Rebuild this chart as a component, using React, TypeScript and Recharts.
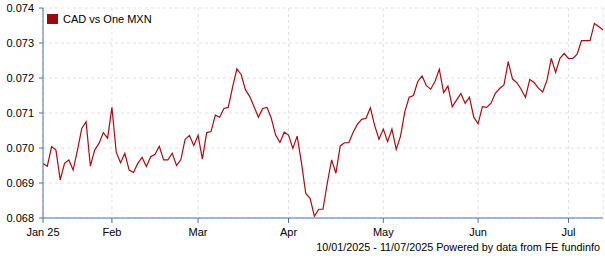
import React from 'react';
import { LineChart, Line, XAxis, YAxis, CartesianGrid } from 'recharts';

// CAD per one MXN, one value per business day, by month
const jan = [
  0.06956, 0.06948, 0.07004, 0.06994, 0.06909, 0.06956, 0.06966, 0.06937,
  0.06994, 0.07056, 0.07075, 0.06948, 0.06994, 0.07013, 0.07044, 0.07028,
];
const feb = [
  0.07116, 0.06988, 0.06958, 0.06985, 0.06937, 0.0693, 0.06956, 0.06973,
  0.06947, 0.06975, 0.06982, 0.07005, 0.06966, 0.06966, 0.06985, 0.0695,
  0.06967, 0.07025, 0.07036, 0.07007,
];
const mar = [
  0.07036, 0.06968, 0.07044, 0.07047, 0.07094, 0.07088, 0.07113, 0.07116,
  0.07173, 0.07226, 0.0721, 0.07166, 0.07147, 0.07118, 0.07088, 0.07113,
  0.07116, 0.07085, 0.07037, 0.07016, 0.07045,
];
const apr = [
  0.07037, 0.06999, 0.07034, 0.06958, 0.0687, 0.06856, 0.06805, 0.06825,
  0.06825, 0.069, 0.06966, 0.06928, 0.07006, 0.07015, 0.07015, 0.07045,
  0.07068, 0.07082, 0.07085, 0.07115, 0.07064, 0.07025,
];
const may = [
  0.07054, 0.07018, 0.07054, 0.06996, 0.07034, 0.07104, 0.07145, 0.0715,
  0.0719, 0.07206, 0.07178, 0.07168, 0.0719, 0.07225, 0.07158, 0.07177,
  0.07118, 0.07137, 0.07156, 0.07128, 0.07145, 0.07088,
];
const jun = [
  0.07069, 0.07118, 0.07116, 0.07128, 0.07156, 0.0717, 0.0718, 0.07247,
  0.07197, 0.07187, 0.07168, 0.07145, 0.07196, 0.07187, 0.07171, 0.0716,
  0.07194, 0.07256, 0.07216, 0.07256, 0.0727,
];
const jul = [
  0.07255, 0.07256, 0.07268, 0.07307, 0.07307, 0.07307, 0.07356, 0.07347,
  0.07337,
];

// [month index, first day, last day] for each block above
const months: [number, number, number, number[]][] = [
  [0, 10, 31, jan],
  [1, 1, 28, feb],
  [2, 1, 31, mar],
  [3, 1, 30, apr],
  [4, 1, 31, may],
  [5, 1, 30, jun],
  [6, 1, 11, jul],
];

const tickDates = [
  '2025-01-10',
  '2025-02-03',
  '2025-03-03',
  '2025-04-01',
  '2025-05-01',
  '2025-06-02',
  '2025-07-01',
];
const tickLabels = ['Jan 25', 'Feb', 'Mar', 'Apr', 'May', 'Jun', 'Jul'];
const yTicks = [0.068, 0.069, 0.07, 0.071, 0.072, 0.073, 0.074];

const seriesName = 'CAD vs One MXN';
const caption = '10/01/2025 - 11/07/2025 Powered by data from FE fundinfo';

function buildData() {
  const rows: { date: string; value: number }[] = [];
  months.forEach(([m, from, to, values]) => {
    let k = 0;
    for (let d = from; d <= to; d++) {
      const dt = new Date(Date.UTC(2025, m, d));
      const wd = dt.getUTCDay();
      if (wd === 0 || wd === 6) continue;
      if (k < values.length) {
        rows.push({ date: dt.toISOString().slice(0, 10), value: values[k] });
      }
      k++;
    }
  });
  return rows;
}

const data = buildData();

const font = '"Liberation Sans", Arial, sans-serif';
const axisColor = '#4a72a6';
const lineColor = '#a80d12';

export default function App() {
  return (
    <div
      style={{
        position: 'absolute',
        left: 0,
        top: 0,
        width: 605,
        height: 260,
        background: '#fff',
        fontFamily: font,
      }}
    >
      <LineChart
        width={605}
        height={260}
        data={data}
        margin={{ top: 8, right: 2, bottom: 22, left: 0 }}
      >
        <CartesianGrid stroke="#e2e2e2" strokeDasharray="3 3" />
        <XAxis
          dataKey="date"
          ticks={tickDates}
          interval={0}
          tickFormatter={(d) => tickLabels[tickDates.indexOf(d)]}
          height={20}
          tickSize={5}
          tickMargin={5}
          stroke={axisColor}
          tick={{ fill: '#000', fontSize: 11, fontFamily: font }}
        />
        <YAxis
          domain={[0.068, 0.074]}
          ticks={yTicks}
          tickFormatter={(v) => v.toFixed(3)}
          width={43}
          tickSize={4}
          tickMargin={5}
          stroke={axisColor}
          tick={{ fill: '#000', fontSize: 11, fontFamily: font }}
        />
        <Line
          type="linear"
          dataKey="value"
          stroke={lineColor}
          strokeWidth={1.2}
          dot={false}
          isAnimationActive={false}
        />
      </LineChart>
      <div
        style={{
          position: 'absolute',
          left: 47,
          top: 13,
          display: 'flex',
          alignItems: 'center',
          fontSize: 11,
          color: '#000',
        }}
      >
        <span
          style={{
            display: 'inline-block',
            width: 11,
            height: 10,
            background: '#9b0a0a',
            marginRight: 5,
          }}
        />
        {seriesName}
      </div>
      <div
        style={{
          position: 'absolute',
          right: 5,
          top: 241,
          fontSize: 10.8,
          color: '#000',
          whiteSpace: 'nowrap',
        }}
      >
        {caption}
      </div>
    </div>
  );
}
